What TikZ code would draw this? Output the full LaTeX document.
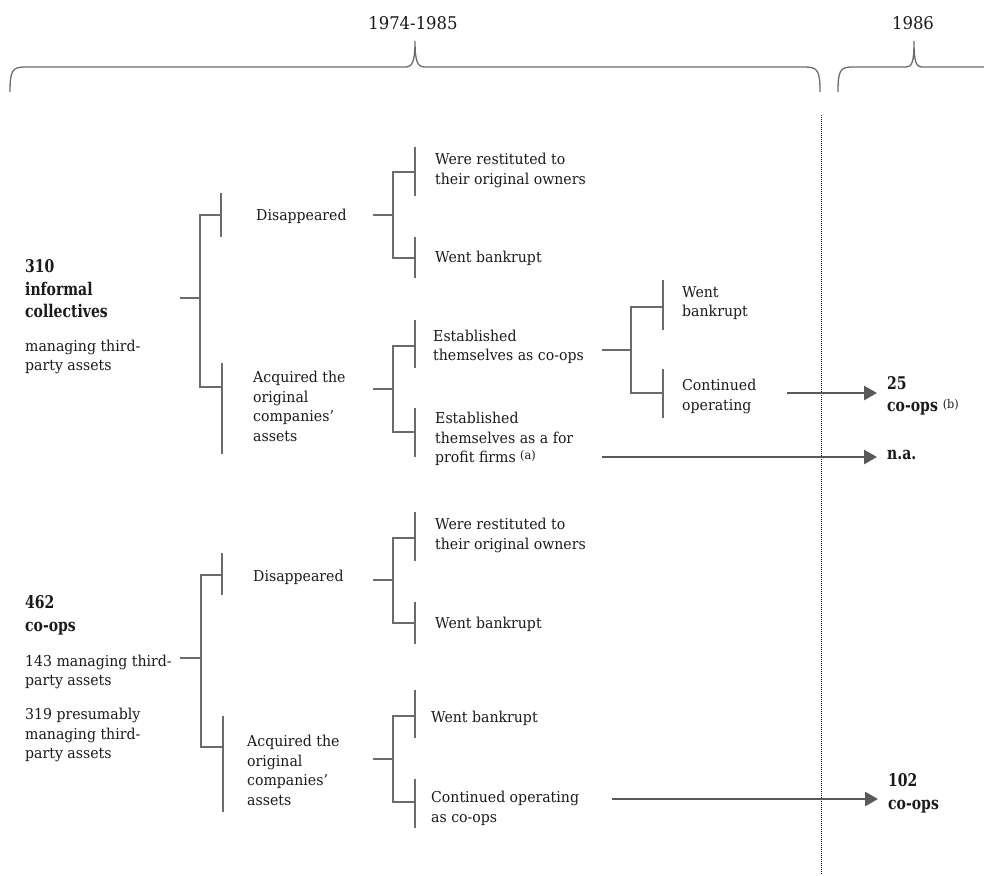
\documentclass[tikz,border=0pt]{standalone}
\usepackage{fontspec}
\setmainfont{DejaVu Serif}[FakeStretch=0.94]
\newfontfamily\bfam{DejaVu Serif}[FakeStretch=0.80]
\usetikzlibrary{arrows.meta}
\definecolor{lgray}{HTML}{6B6B6B}
\definecolor{agray}{HTML}{595959}
\definecolor{ink}{HTML}{1A1A1A}
\newcommand\supnote[1]{\raisebox{3pt}{\mdseries\fontsize{12}{13}\selectfont(#1)}}
\begin{document}
\begin{tikzpicture}[x=1pt,y=-1pt,
  tl/.style={draw=lgray,line width=1.5pt},
  brc/.style={draw=lgray,line width=1.3pt},
  arr/.style={draw=agray,line width=2.7pt,-{Triangle[length=13pt,width=14pt]},shorten >=10pt},
  txt/.style={anchor=west,align=left,inner sep=0pt,text=ink,font=\fontsize{15}{19.7}\selectfont},
  bld/.style={anchor=west,align=left,inner sep=0pt,text=ink,font=\fontsize{17.5}{22.5}\bfam\bfseries},
  yr/.style={inner sep=0pt,text=ink,font=\fontsize{17.5}{20}\selectfont}]
\path[use as bounding box] (0,0) rectangle (984,875);
% years and braces
\node[yr] (y1) at (413,23) {1974-1985};
\node[yr] (y2) at (913,23) {1986};
\draw[brc] (10,92) .. controls (10,71) and (12,67) .. (25,67) -- (405,67)
  .. controls (412,67) and (415,63) .. (415,41)
  .. controls (415,63) and (418,67) .. (425,67) -- (805,67)
  .. controls (818,67) and (820,71) .. (820,92);
\draw[brc] (838,92) .. controls (838,71) and (840,67) .. (852,67) -- (905,67)
  .. controls (912,67) and (914,63) .. (914,41)
  .. controls (914,63) and (916,67) .. (923,67) -- (984,67);
\coordinate (dtop) at (821,115);
\coordinate (dbot) at (821,875);
\draw[ink,line width=1pt,dash pattern=on 1pt off 1pt] (dtop) -- (dbot);
% ---------- top group ----------
\node[bld] (t310) at (25,289) {310\\informal\\collectives};
\node[txt,font=\fontsize{15}{19}\selectfont] (tman) at (25,356.5) {managing third-\\party assets};
\node[txt] (tdis) at (256,216) {Disappeared};
\node[txt] (tacq) at (253,406.5) {Acquired the\\original\\companies’\\assets};
\node[txt] (tres) at (435,170.5) {Were restituted to\\their original owners};
\node[txt] (tbk) at (435,258) {Went bankrupt};
\node[txt] (tcoop) at (433,347) {Established\\themselves as co-ops};
\node[txt] (tfp) at (435,439) {Established\\themselves as a for\\profit firms \supnote{a}};
\node[txt] (twb) at (682,303) {Went\\bankrupt};
\node[txt] (tcont) at (682,396.5) {Continued\\operating};
\node[bld] (t25) at (887,396) {25\\co-ops {\normalfont\supnote{b}}};
\node[bld] (tna) at (887,455) {n.a.};
% tree lines
\draw[tl] (180,298) -- (200,298);
\draw[tl] (221,215) -- (200,215) -- (200,387) -- (222,387);
\draw[tl] (221,193) -- (221,237);
\draw[tl] (222,363) -- (222,454);
\draw[tl] (373,215) -- (393,215);
\draw[tl] (415,172) -- (393,172) -- (393,258) -- (415,258);
\draw[tl] (415,147) -- (415,196);
\draw[tl] (415,237) -- (415,278);
\draw[tl] (373,389) -- (393,389);
\draw[tl] (415,346) -- (393,346) -- (393,432) -- (415,432);
\draw[tl] (415,320) -- (415,368);
\draw[tl] (415,408) -- (415,457);
\draw[tl] (602,350) -- (631,350);
\draw[tl] (663,307) -- (631,307) -- (631,393) -- (663,393);
\draw[tl] (663,280) -- (663,330);
\draw[tl] (663,369) -- (663,418);
\coordinate (a1) at (787,393);
\coordinate (a2) at (602,457);
\draw[arr] (a1) -- (t25.west |- a1);
\draw[arr] (a2) -- (tna.west |- a2);
% ---------- bottom group ----------
\node[bld] (b462) at (25,615.5) {462\\co-ops};
\node[txt] (b143) at (25,672) {143 managing third-\\party assets};
\node[txt] (b319) at (25,735) {319 presumably\\managing third-\\party assets};
\node[txt] (bdis) at (253,577) {Disappeared};
\node[txt] (bacq) at (247,770.5) {Acquired the\\original\\companies’\\assets};
\node[txt] (bres) at (435,535.5) {Were restituted to\\their original owners};
\node[txt] (bbk) at (435,624) {Went bankrupt};
\node[txt] (bwb) at (431,718) {Went bankrupt};
\node[txt] (bcont) at (431,808) {Continued operating\\as co-ops};
\node[bld] (b102) at (888,793.5) {102\\co-ops};
\draw[tl] (180,658) -- (201,658);
\draw[tl] (222,575) -- (201,575) -- (201,747) -- (223,747);
\draw[tl] (222,553) -- (222,595);
\draw[tl] (223,716) -- (223,812);
\draw[tl] (373,580) -- (393,580);
\draw[tl] (415,538) -- (393,538) -- (393,623) -- (415,623);
\draw[tl] (415,512) -- (415,561);
\draw[tl] (415,602) -- (415,644);
\draw[tl] (373,759) -- (393,759);
\draw[tl] (415,716) -- (393,716) -- (393,802) -- (415,802);
\draw[tl] (415,690) -- (415,738);
\draw[tl] (415,779) -- (415,828);
\coordinate (a3) at (612,799);
\draw[arr] (a3) -- (b102.west |- a3);
\end{tikzpicture}
\end{document}
